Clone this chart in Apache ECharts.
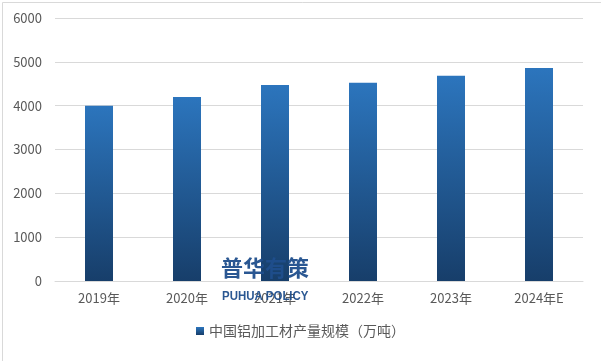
<!DOCTYPE html>
<html><head><meta charset="utf-8">
<script src="https://cdn.jsdelivr.net/npm/echarts@6/dist/echarts.min.js"></script>
<style>html,body{margin:0;padding:0;background:#fff}#c{width:601px;height:361px}</style>
</head><body><div id="c"></div>
<script>
const categories = ['2019年','2020年','2021年','2022年','2023年','2024年E'];
const values = [4000, 4200, 4470, 4520, 4680, 4860];
const seriesName = '中国铝加工材产量规模（万吨）';
const yTicks = {min: 0, max: 6000, interval: 1000};

const chart = echarts.init(document.getElementById('c'), null, {renderer: 'canvas'});
const grad = new echarts.graphic.LinearGradient(0, 0, 0, 1, [
  {offset: 0, color: '#2c75bd'},
  {offset: 1, color: '#173e6a'}
]);
chart.setOption({
  animation: false,
  backgroundColor: '#fff',
  textStyle: {fontFamily: '"Noto Sans CJK SC", "Liberation Sans", sans-serif'},
  grid: {left: 55, right: 18, top: 18, bottom: 80},
  xAxis: {
    type: 'category', data: categories,
    axisLine: {lineStyle: {color: '#d9d9d9'}},
    axisTick: {show: false},
    axisLabel: {color: '#595959', fontSize: 13, margin: 11}
  },
  yAxis: {
    type: 'value', min: yTicks.min, max: yTicks.max, interval: yTicks.interval,
    axisLine: {show: false}, axisTick: {show: false},
    splitLine: {lineStyle: {color: '#d9d9d9'}},
    axisLabel: {color: '#595959', fontSize: 13, margin: 13, formatter: v => String(v)}
  },
  legend: {
    bottom: 18, left: 'center',
    itemWidth: 8, itemHeight: 8, itemGap: 5,
    textStyle: {color: '#595959', fontSize: 14},
    data: [{name: seriesName, icon: 'rect'}]
  },
  series: [{
    name: seriesName, type: 'bar', data: values, barWidth: 28,
    itemStyle: {color: grad}
  }],
  graphic: [
    {type: 'rect', left: 0, top: 0, z: 100, silent: true,
     shape: {width: 600, height: 360},
     style: {fill: 'none', stroke: '#d9d9d9', lineWidth: 1}},
    {type: 'text', x: 221, y: 257, z: 50,
     style: {text: '普华有策', fill: 'rgba(31,78,140,0.95)', font: 'bold 22px "Noto Sans CJK SC"'}},
    {type: 'text', x: 222, y: 290, scaleX: 0.88, z: 50,
     style: {text: 'PUHUA POLICY', fill: 'rgba(31,78,140,0.95)', font: 'bold 13px "Liberation Sans"'}}
  ]
});
</script></body></html>
